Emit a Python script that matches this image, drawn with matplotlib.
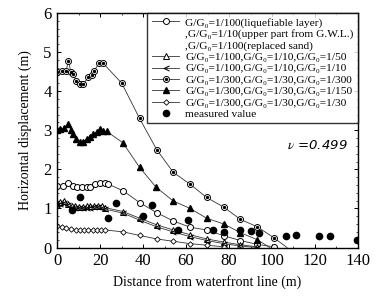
import matplotlib
matplotlib.use("Agg")
import matplotlib.pyplot as plt
from matplotlib.legend_handler import HandlerTuple
from matplotlib.lines import Line2D

# ---- data ----
x_bull = [0, 2.2, 4.2, 5.3, 6.4, 7.6, 8.8, 10.7, 12.2, 14.6, 16.1, 17.2, 19.7, 21.3,
          30.1, 38.4, 46.4, 54.1, 61.9, 69.6, 77.7, 85.3, 93.2, 100.9, 107]
y_bull = [4.5, 4.52, 4.52, 4.78, 4.48, 4.43, 4.26, 4.18, 4.19, 4.35, 4.41, 4.52, 4.72, 4.72,
          4.2, 3.3, 2.5, 1.92, 1.62, 1.28, 1.03, 0.72, 0.53, 0.25, 0.0]

x_ftri = [0, 1.4, 3.3, 5.3, 6.4, 7.6, 8.8, 10.7, 12.2, 14.1, 15.3, 16.9, 18.4, 19.9, 21.5, 23.1,
          30.6, 38.4, 46.1, 54.1, 61.9, 69.6, 77.7, 85.3, 93.2, 99]
y_ftri = [3.0, 3.02, 3.06, 3.17, 3.0, 2.91, 2.77, 2.71, 2.71, 2.77, 2.83, 2.91, 2.95, 3.02, 2.97, 2.97,
          2.68, 2.05, 1.54, 1.19, 1.0, 0.75, 0.6, 0.38, 0.2, 0.0]

x_ocir = [0, 2.7, 5.3, 7.6, 9.2, 11.5, 13.8, 15.3, 17.7, 20, 22.3, 23.9,
          30.8, 38.4, 46.4, 54.1, 61.9, 69.6, 77.7, 85.3, 93.2, 100.9]
y_ocir = [1.58, 1.58, 1.65, 1.58, 1.54, 1.54, 1.54, 1.56, 1.62, 1.65, 1.65, 1.62,
          1.45, 1.15, 0.89, 0.68, 0.52, 0.45, 0.3, 0.18, 0.08, 0.02]

x_otri = [0, 1.5, 3.2, 5.0, 6.8, 8.5, 10.2, 12, 13.8, 15.5, 17.2, 19, 20.8, 22.5,
          30.8, 38.4, 46.4, 54.1, 61.9, 69.6, 77.7, 85.3, 93.2]
y_otri = [1.15, 1.17, 1.2, 1.12, 1.06, 1.05, 1.04, 1.04, 1.05, 1.06, 1.07, 1.07, 1.05, 1.02,
          0.92, 0.75, 0.58, 0.45, 0.33, 0.22, 0.14, 0.07, 0.02]

x_less = [0, 1.5, 3.2, 5.0, 6.8, 8.5, 10.2, 12, 13.8, 15.5, 17.2, 19, 20.8, 22.5,
          30.8, 38.4, 46.4, 54.1, 61.9, 69.6, 77.7, 85.3, 93.2]
y_less = [1.1, 1.12, 1.15, 1.08, 1.02, 1.0, 1.0, 1.0, 1.01, 1.02, 1.03, 1.03, 1.01, 0.98,
          0.88, 0.7, 0.53, 0.4, 0.28, 0.18, 0.1, 0.04, 0.0]

x_diam = [0, 2.2, 4.2, 6.4, 8.8, 10.7, 12.6, 14.6, 16.5, 18.4, 20.3, 22.5,
          30.8, 38.4, 46.4, 54.1, 61.9, 69.6, 77.7]
y_diam = [0.55, 0.53, 0.5, 0.48, 0.46, 0.45, 0.44, 0.44, 0.44, 0.44, 0.45, 0.45,
          0.4, 0.31, 0.22, 0.16, 0.1, 0.06, 0.02]

x_meas = [6.8, 10.7, 23.9, 27.5, 40, 44, 56.4, 61, 72.7, 77.8, 85.1, 90, 94,
          106.5, 111, 122, 127, 139.4]
y_meas = [0.95, 1.3, 0.76, 1.15, 0.8, 1.1, 0.46, 0.71, 0.46, 0.4, 0.46, 0.42, 0.36,
          0.29, 0.31, 0.29, 0.29, 0.2]

labels = [
    "G/G₀=1/100(liquefiable layer)",
    ",G/G₀=1/10(upper part from G.W.L.)",
    ",G/G₀=1/100(replaced sand)",
    "G/G₀=1/100,G/G₀=1/10,G/G₀=1/50",
    "G/G₀=1/100,G/G₀=1/10,G/G₀=1/10",
    "G/G₀=1/300,G/G₀=1/30,G/G₀=1/300",
    "G/G₀=1/300,G/G₀=1/30,G/G₀=1/150",
    "G/G₀=1/300,G/G₀=1/30,G/G₀=1/30",
    "measured value",
]

plt.rcParams['font.family'] = ['Liberation Serif', 'DejaVu Serif']
plt.rcParams['mathtext.fontset'] = 'stix'

fig = plt.figure(figsize=(3.78, 2.99), dpi=100)
ax = fig.add_axes([0.151, 0.172, 0.796, 0.785])

lw = 0.6
lc = '#333333'
h_ocir, = ax.plot(x_ocir, y_ocir, '-', color=lc, lw=lw, marker='o', ms=4.3, mfc='white', mec='black', mew=0.7)
h_otri, = ax.plot(x_otri, y_otri, '-', color=lc, lw=lw, marker='^', ms=4, mfc='white', mec='black', mew=0.7)
h_less, = ax.plot(x_less, y_less, '-', color=lc, lw=lw, marker='$<$', ms=4, mec='black', mfc='black', mew=0.3)
h_bull, = ax.plot(x_bull, y_bull, '-', color=lc, lw=lw, marker='o', ms=4.3, mfc='white', mec='black', mew=0.7,
                  markevery=list(range(len(x_bull) - 1)))
h_bdot, = ax.plot(x_bull[:-1], y_bull[:-1], ls='none', marker='o', ms=1.4, color='black')
h_ftri, = ax.plot(x_ftri, y_ftri, '-', color=lc, lw=lw, marker='^', ms=4.5, mfc='black', mec='black',
                  markevery=list(range(len(x_ftri) - 1)))
h_diam, = ax.plot(x_diam, y_diam, '-', color=lc, lw=lw, marker='D', ms=2.8, mfc='white', mec='black', mew=0.6)
h_meas, = ax.plot(x_meas, y_meas, ls='none', marker='o', ms=4.5, color='black')

blank = Line2D([], [], alpha=0)

ax.set_xlim(0, 140)
ax.set_ylim(0, 6)
ax.set_xticks(range(0, 141, 20))
ax.set_yticks(range(0, 7))
ax.set_xticks(range(0, 141, 10), minor=True)
ax.set_yticks([i * 0.2 for i in range(31)], minor=True)
ax.tick_params(direction='in', which='both', top=True, right=True, labelsize=12, pad=4)
ax.tick_params(which='major', length=3, width=0.7)
ax.tick_params(which='minor', length=1.6, width=0.5)
for s in ax.spines.values():
    s.set_linewidth(1.0)

ax.set_xlabel("Distance from waterfront line (m)", fontsize=10, labelpad=4)
ax.set_ylabel("Horizontal displacement (m)", fontsize=10, labelpad=8)

ax.text(135, 2.6, r"$\nu$ =0.499", fontsize=9.5, style='italic', family='DejaVu Sans',
        ha='right', va='center')

handles = [h_ocir, blank, blank, h_otri, h_less, (h_bull, h_bdot), h_ftri, h_diam, h_meas]
leg = ax.legend(handles, labels,
                handler_map={tuple: HandlerTuple(ndivide=1, pad=0)},
                loc='upper right', bbox_to_anchor=(1.0, 1.0), fontsize=8.2, frameon=True,
                fancybox=False, edgecolor='black', handlelength=2.4, handletextpad=0.5,
                labelspacing=0.12, borderpad=0.4, borderaxespad=0.0)
leg.get_frame().set_linewidth(1.0)

fig.savefig("out.png", dpi=100)
